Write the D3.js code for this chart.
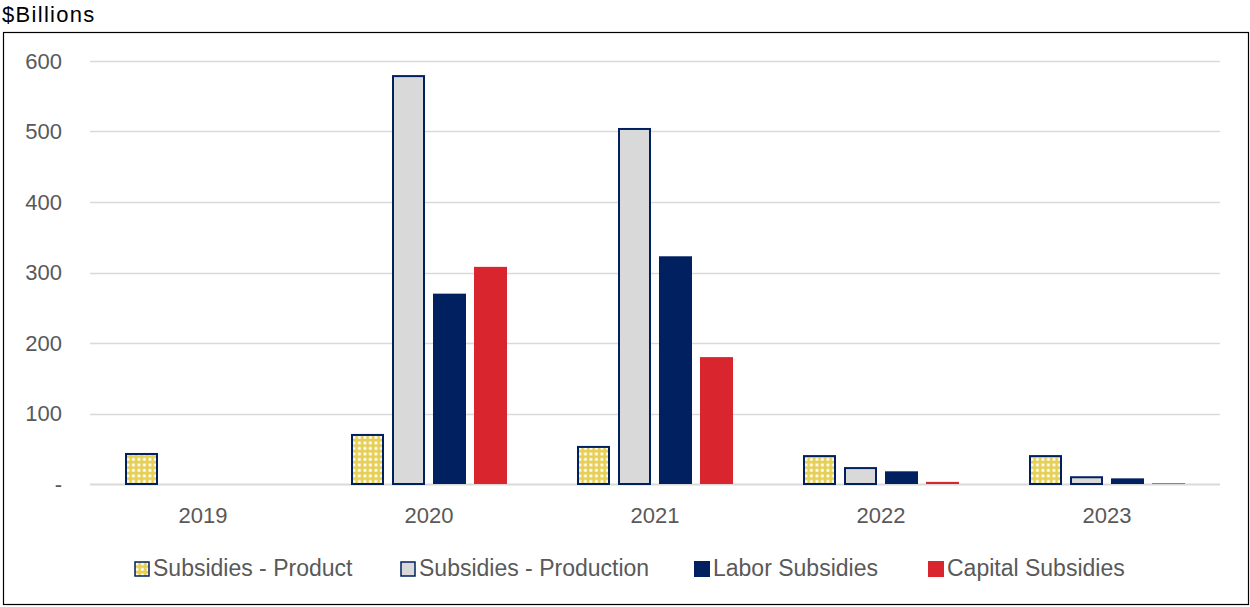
<!DOCTYPE html>
<html>
<head>
<meta charset="utf-8">
<script src="https://cdn.jsdelivr.net/npm/d3@7"></script>
<style>
  body { margin: 0; background: #fff; }
  svg { display: block; font-family: "Liberation Sans", Arial, sans-serif; }
</style>
</head>
<body>
<svg id="chart" width="1250" height="607"></svg>
<script>
// Subsidy spending by year, $ billions
const years = ["2019", "2020", "2021", "2022", "2023"];
const seriesNames = ["Subsidies - Product", "Subsidies - Production", "Labor Subsidies", "Capital Subsidies"];
const productValues    = [44, 71, 54, 41, 41];
const productionValues = [0, 580, 505, 24, 11];
const laborValues      = [0, 270, 323, 18, 8];
const capitalValues    = [0, 308, 180, 3, 1];
const yTicks = [0, 100, 200, 300, 400, 500, 600];

const seriesValues = [productValues, productionValues, laborValues, capitalValues];
const styles = [
  { fill: "url(#dots)", stroke: "#002060" },
  { fill: "#D9D9D9", stroke: "#002060" },
  { fill: "#002060", stroke: "none" },
  { fill: "#D9262E", stroke: "none" }
];

const svg = d3.select("#chart");
const defs = svg.append("defs");
const pat = defs.append("pattern")
  .attr("id", "dots").attr("patternUnits", "userSpaceOnUse")
  .attr("width", 5.5).attr("height", 5.5);
pat.append("rect").attr("width", 5.5).attr("height", 5.5).attr("fill", "#E6CF55");
pat.append("rect").attr("x", 1.5).attr("y", 1.5).attr("width", 2.8).attr("height", 2.8).attr("fill", "#FFFFFF");

// Outer frame
svg.append("rect").attr("x", 3.5).attr("y", 32.5).attr("width", 1245).attr("height", 572)
  .attr("fill", "none").attr("stroke", "#000").attr("stroke-width", 1.2);

svg.append("text").attr("x", 2).attr("y", 22).attr("font-size", 22)
  .attr("letter-spacing", 1.3).attr("fill", "#000").text("$Billions");

const x0 = d3.scaleBand().domain(years).range([90, 1220]).paddingInner(0).paddingOuter(0);
const groupWidth = 156;
const x1 = d3.scaleBand().domain(d3.range(4)).range([0, groupWidth]).paddingInner(8 / 41).paddingOuter(0);
const groupOffset = (x0.bandwidth() - groupWidth) / 2;
const y = d3.scaleLinear().domain([0, 600]).range([484, 61]);

// Gridlines
svg.append("g").selectAll("line").data(yTicks).join("line")
  .attr("x1", 90).attr("x2", 1220)
  .attr("y1", d => Math.round(y(d)) + 0.5).attr("y2", d => Math.round(y(d)) + 0.5)
  .attr("stroke", "#D9D9D9").attr("stroke-width", d => d === 0 ? 2 : 1.3);

// Y axis labels
const yAxis = d3.axisLeft(y).tickValues(yTicks).tickSize(0).tickPadding(0)
  .tickFormat(d => d === 0 ? "-" : d);
svg.append("g").attr("transform", "translate(62,0)").call(yAxis)
  .call(g => g.select(".domain").remove())
  .call(g => g.selectAll("text").attr("font-size", 22).attr("fill", "#595959").attr("font-family", null));

// X axis labels
const xAxis = d3.axisBottom(x0).tickSize(0).tickPadding(0);
svg.append("g").attr("transform", "translate(0,507)").call(xAxis)
  .call(g => g.select(".domain").remove())
  .call(g => g.selectAll("text").attr("dy", "0.72em").attr("font-size", 22).attr("fill", "#595959").attr("font-family", null));

// Bars
years.forEach((yr, i) => {
  const g = svg.append("g").attr("transform", `translate(${x0(yr) + groupOffset},0)`);
  seriesValues.forEach((vals, s) => {
    const v = vals[i];
    if (v <= 0) return;
    const st = styles[s];
    const bw = x1.bandwidth();
    const top = y(v), h = y(0) - y(v);
    if (st.stroke !== "none") {
      g.append("rect")
        .attr("x", x1(s) + 1).attr("y", top + 1)
        .attr("width", bw - 2).attr("height", Math.max(h - 1, 0.5))
        .attr("fill", st.fill).attr("stroke", st.stroke).attr("stroke-width", 2);
    } else {
      g.append("rect")
        .attr("x", x1(s)).attr("y", top)
        .attr("width", bw).attr("height", h)
        .attr("fill", st.fill);
    }
  });
});

// Legend
const legendX = [134, 400, 694, 928];
const legend = svg.append("g");
seriesNames.forEach((name, s) => {
  const st = styles[s];
  const lg = legend.append("g").attr("transform", `translate(${legendX[s]},561)`);
  if (st.stroke !== "none") {
    lg.append("rect").attr("x", 1).attr("y", 1).attr("width", 14).attr("height", 14)
      .attr("fill", st.fill).attr("stroke", st.stroke).attr("stroke-width", 1.5);
  } else {
    lg.append("rect").attr("x", 0).attr("y", 0).attr("width", 16).attr("height", 16).attr("fill", st.fill);
  }
  lg.append("text").attr("x", 19).attr("y", 15).attr("font-size", 23).attr("fill", "#595959").text(name);
});
</script>
</body>
</html>
